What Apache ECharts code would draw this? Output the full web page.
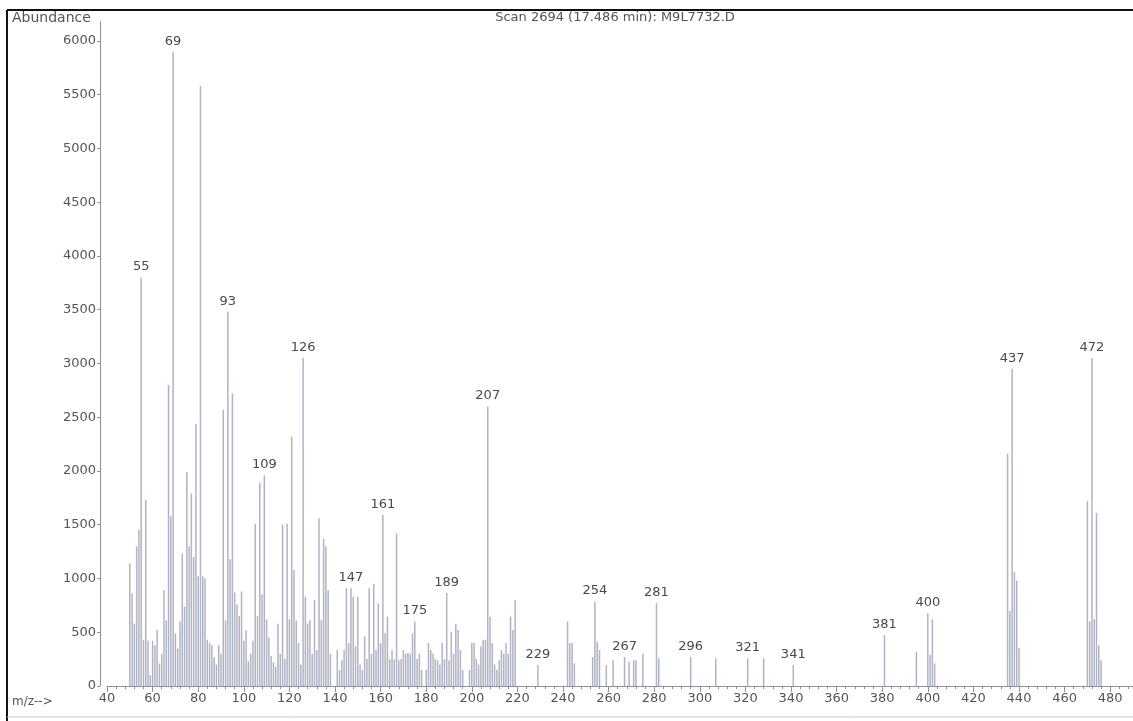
<!DOCTYPE html>
<html>
<head>
<meta charset="utf-8">
<script src="https://cdn.jsdelivr.net/npm/echarts@6/dist/echarts.min.js"></script>
<style>
  html, body { margin: 0; padding: 0; background: #fff; }
  #chart { width: 1133px; height: 721px; }
</style>
</head>
<body>
<div id="chart"></div>
<script>
// m/z values and abundances
const mzValues = [
  50, 51, 52, 53, 54, 55, 56, 57, 58, 59, 60, 61, 62, 63, 64, 65, 66, 67, 68, 69,
  70, 71, 72, 73, 74, 75, 76, 77, 78, 79, 80, 81, 82, 83, 84, 85, 86, 87, 88, 89,
  90, 91, 92, 93, 94, 95, 96, 97, 98, 99, 100, 101, 102, 103, 104, 105, 106, 107, 108, 109,
  110, 111, 112, 113, 114, 115, 116, 117, 118, 119, 120, 121, 122, 123, 124, 125, 126, 127, 128, 129,
  130, 131, 132, 133, 134, 135, 136, 137, 138, 141, 142, 143, 144, 145, 146, 147, 148, 149,
  150, 151, 152, 153, 154, 155, 156, 157, 158, 159, 160, 161, 162, 163, 164, 165, 166, 167, 168, 169,
  170, 171, 172, 173, 174, 175, 176, 177, 178, 180, 181, 182, 183, 184, 185, 186, 187, 188, 189,
  190, 191, 192, 193, 194, 195, 196, 199, 200, 201, 202, 203, 204, 205, 206, 207, 208, 209,
  210, 211, 212, 213, 214, 215, 216, 217, 218, 219, 229, 242, 243, 244, 245, 253, 254, 255, 256, 259,
  262, 267, 269, 271, 272, 275, 281, 282, 296, 307, 321, 328, 341, 381, 395, 400, 401, 402, 403,
  435, 436, 437, 438, 439, 440, 470, 471, 472, 473, 474, 475, 476
];
const abundance = [
  1140, 860, 580, 1300, 1450, 3800, 430, 1730, 420, 100, 420, 380, 520, 210, 300, 890, 610, 2800, 1580, 5900,
  490, 350, 600, 1230, 740, 1990, 1300, 1790, 1200, 2440, 1020, 5580, 1020, 1000, 430, 400, 380, 270, 200, 380,
  300, 2570, 610, 3480, 1180, 2720, 870, 760, 650, 880, 420, 520, 230, 300, 420, 1510, 650, 1890, 850, 1960,
  620, 450, 280, 220, 180, 580, 300, 1500, 250, 1510, 620, 2320, 1080, 610, 400, 200, 3050, 830, 580, 615,
  300, 800, 335, 1560, 615, 1370, 1300, 890, 300, 335, 150, 240, 335, 910, 400, 910, 830, 370,
  830, 200, 150, 460, 250, 910, 300, 950, 335, 770, 400, 1590, 490, 645, 250, 335, 250, 1420, 240, 250,
  335, 300, 310, 300, 490, 600, 250, 300, 150, 150, 400, 335, 300, 250, 240, 200, 400, 250, 865,
  240, 505, 300, 580, 520, 335, 150, 150, 400, 400, 250, 200, 370, 430, 430, 2600, 645, 400,
  200, 150, 240, 335, 300, 400, 300, 645, 520, 800, 195, 600, 400, 400, 210, 270, 785, 412, 335, 195,
  240, 270, 226, 240, 240, 300, 770, 257, 270, 257, 257, 257, 195, 475, 320, 676, 290, 620, 210,
  2160, 700, 2950, 1060, 980, 350, 1720, 600, 3050, 620, 1610, 380, 240
];
// peaks that carry an m/z label
const labeledPeaks = [55, 69, 93, 109, 126, 147, 161, 175, 189, 207, 229, 254, 267, 281, 296, 321, 341, 381, 400, 437, 472];

const titleText = 'Scan 2694 (17.486 min): M9L7732.D';

const chart = echarts.init(document.getElementById('chart'));

const data = mzValues.map((mz, i) => ({
  value: [mz, abundance[i]],
  label: { show: labeledPeaks.includes(mz), formatter: String(mz) }
}));

const axisGray = '#8e919c';
const textGray = '#555';
const font = 'DejaVu Sans, sans-serif';

chart.setOption({
  backgroundColor: '#fff',
  animation: false,
  grid: { left: 107, right: 0, top: 21.6, bottom: 35 },
  xAxis: {
    type: 'value',
    min: 40, max: 490, interval: 20,
    axisLine: { show: true, lineStyle: { color: axisGray, width: 1 } },
    axisTick: { show: true, length: 6, lineStyle: { color: axisGray } },
    minorTick: { show: true, splitNumber: 5, length: 3, lineStyle: { color: axisGray } },
    splitLine: { show: false },
    axisLabel: { color: textGray, fontSize: 13, fontFamily: font, margin: 6, showMaxLabel: false }
  },
  yAxis: {
    type: 'value',
    min: 0, max: 6180, interval: 500,
    offset: 7,
    axisLine: { show: true, lineStyle: { color: axisGray, width: 1 } },
    axisTick: { show: true, length: 3, lineStyle: { color: axisGray } },
    splitLine: { show: false },
    axisLabel: {
      color: textGray, fontSize: 13, fontFamily: font, margin: 4, showMaxLabel: false,
      formatter: (v) => String(v)
    }
  },
  series: [{
    type: 'bar',
    data: data,
    barWidth: 1.5,
    itemStyle: { color: '#b0b3c3' },
    label: { position: 'top', distance: 4, color: '#4a4a4a', fontSize: 13, fontFamily: font },
    emphasis: { disabled: true }
  }],
  graphic: [
    { type: 'line', shape: { x1: 7, y1: 10, x2: 1133, y2: 10 }, style: { stroke: '#111', lineWidth: 2 } },
    { type: 'line', shape: { x1: 7, y1: 10, x2: 7, y2: 721 }, style: { stroke: '#111', lineWidth: 2 } },
    { type: 'line', shape: { x1: 7, y1: 717, x2: 1133, y2: 717 }, style: { stroke: '#c8c8c8', lineWidth: 1 } },
    { type: 'text', left: 12, top: 11, style: { text: 'Abundance', fill: textGray, font: '14px ' + font } },
    { type: 'text', x: 615, y: 11, style: { text: titleText, fill: textGray, font: '13px ' + font, textAlign: 'center' } },
    { type: 'text', left: 12, top: 696, style: { text: 'm/z-->', fill: textGray, font: '12px ' + font } }
  ]
});
</script>
</body>
</html>
